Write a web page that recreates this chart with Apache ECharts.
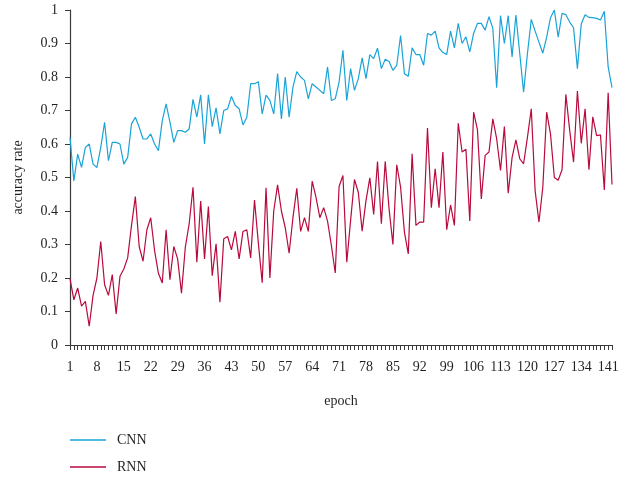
<!DOCTYPE html>
<html>
<head>
<meta charset="utf-8">
<script src="https://cdn.jsdelivr.net/npm/echarts@6/dist/echarts.min.js"></script>
<style>html,body{margin:0;padding:0;background:#fff;}#c{width:641px;height:480px;}</style>
</head>
<body>
<div id="c"></div>
<script>
const epochs = Array.from({length: 142}, (_, i) => String(i + 1));

const cnn = [
0.62,0.49,0.57,0.53,0.59,0.60,0.54,0.53,0.59,0.665,
0.55,0.605,0.605,0.60,0.54,0.56,0.66,0.68,0.65,0.615,
0.615,0.63,0.60,0.58,0.67,0.72,0.665,0.605,0.64,0.64,
0.635,0.645,0.733,0.68,0.747,0.60,0.747,0.652,0.708,0.63,
0.70,0.705,0.742,0.715,0.705,0.657,0.68,0.78,0.78,0.786,
0.69,0.746,0.73,0.69,0.81,0.675,0.80,0.68,0.77,0.816,
0.80,0.79,0.735,0.78,0.77,0.76,0.75,0.83,0.73,0.735,
0.785,0.88,0.73,0.825,0.76,0.795,0.857,0.795,0.867,0.855,
0.886,0.825,0.853,0.846,0.82,0.835,0.924,0.81,0.802,0.887,
0.867,0.867,0.835,0.93,0.925,0.937,0.887,0.873,0.867,0.937,
0.887,0.96,0.90,0.92,0.875,0.93,0.96,0.96,0.94,0.98,
0.945,0.768,0.983,0.90,0.983,0.86,0.985,0.87,0.755,0.87,
0.972,0.937,0.904,0.871,0.919,0.977,1.0,0.919,0.99,0.986,
0.964,0.947,0.825,0.958,0.986,0.978,0.977,0.975,0.97,0.996,
0.83,0.768
];

const rnn = [
0.198,0.135,0.17,0.116,0.13,0.056,0.148,0.20,0.309,0.18,
0.148,0.21,0.093,0.205,0.227,0.26,0.357,0.443,0.294,0.25,
0.344,0.38,0.282,0.214,0.185,0.344,0.195,0.294,0.257,0.155,
0.292,0.362,0.471,0.247,0.43,0.257,0.413,0.207,0.302,0.128,
0.317,0.324,0.284,0.339,0.257,0.339,0.344,0.26,0.433,0.304,
0.186,0.469,0.20,0.40,0.478,0.40,0.35,0.274,0.38,0.468,
0.339,0.38,0.339,0.489,0.441,0.38,0.41,0.37,0.297,0.215,
0.473,0.506,0.247,0.372,0.494,0.456,0.34,0.431,0.499,0.39,
0.548,0.362,0.548,0.407,0.30,0.538,0.471,0.337,0.272,0.571,
0.357,0.367,0.367,0.648,0.41,0.526,0.41,0.576,0.344,0.418,
0.357,0.662,0.576,0.584,0.37,0.695,0.642,0.436,0.566,0.576,
0.675,0.615,0.521,0.652,0.453,0.559,0.612,0.556,0.541,0.62,
0.705,0.461,0.367,0.471,0.695,0.63,0.50,0.492,0.523,0.748,
0.64,0.546,0.758,0.602,0.705,0.523,0.681,0.625,0.627,0.463,
0.753,0.479
];

const seriesNames = ['CNN', 'RNN'];
const seriesColors = ['#1aa3d8', '#b80a3c'];

const font = "'Liberation Serif', 'DejaVu Serif', serif";
const textColor = '#231f20';

const chart = echarts.init(document.getElementById('c'), null, {renderer: 'canvas'});
chart.setOption({
  animation: false,
  backgroundColor: '#fff',
  textStyle: {fontFamily: font, color: textColor},
  grid: {left: 70, right: 29, top: 10, bottom: 135, containLabel: false},
  legend: {
    orient: 'vertical',
    left: 70,
    top: 433,
    padding: 0,
    icon: 'rect',
    itemWidth: 36,
    itemHeight: 1.6,
    itemGap: 13,
    textStyle: {fontFamily: font, fontSize: 14, color: textColor, padding: [0, 0, 0, 6]},
    data: seriesNames
  },
  xAxis: {
    type: 'category',
    data: epochs,
    boundaryGap: false,
    name: 'epoch',
    nameLocation: 'middle',
    nameGap: 49,
    nameTextStyle: {fontFamily: font, fontSize: 14, color: textColor},
    axisLine: {lineStyle: {color: '#3a3a3a', width: 1.2}},
    axisTick: {interval: 0, length: 5, lineStyle: {color: '#3a3a3a'}},
    axisLabel: {interval: 6, margin: 15, fontFamily: font, fontSize: 14, color: textColor},
    splitLine: {show: false}
  },
  yAxis: {
    type: 'value',
    min: 0,
    max: 1,
    interval: 0.1,
    name: 'accuracy rate',
    nameLocation: 'middle',
    nameGap: 45,
    nameTextStyle: {fontFamily: font, fontSize: 14, color: textColor},
    axisLine: {show: true, lineStyle: {color: '#3a3a3a', width: 1.2}},
    axisTick: {show: true, length: 5, lineStyle: {color: '#3a3a3a'}},
    axisLabel: {margin: 12, fontFamily: font, fontSize: 14, color: textColor},
    splitLine: {show: false}
  },
  series: [
    {name: seriesNames[0], type: 'line', data: cnn, symbol: 'none', lineStyle: {color: seriesColors[0], width: 1.2}, itemStyle: {color: seriesColors[0]}},
    {name: seriesNames[1], type: 'line', data: rnn, symbol: 'none', lineStyle: {color: seriesColors[1], width: 1.2}, itemStyle: {color: seriesColors[1]}}
  ]
});
</script>
</body>
</html>
